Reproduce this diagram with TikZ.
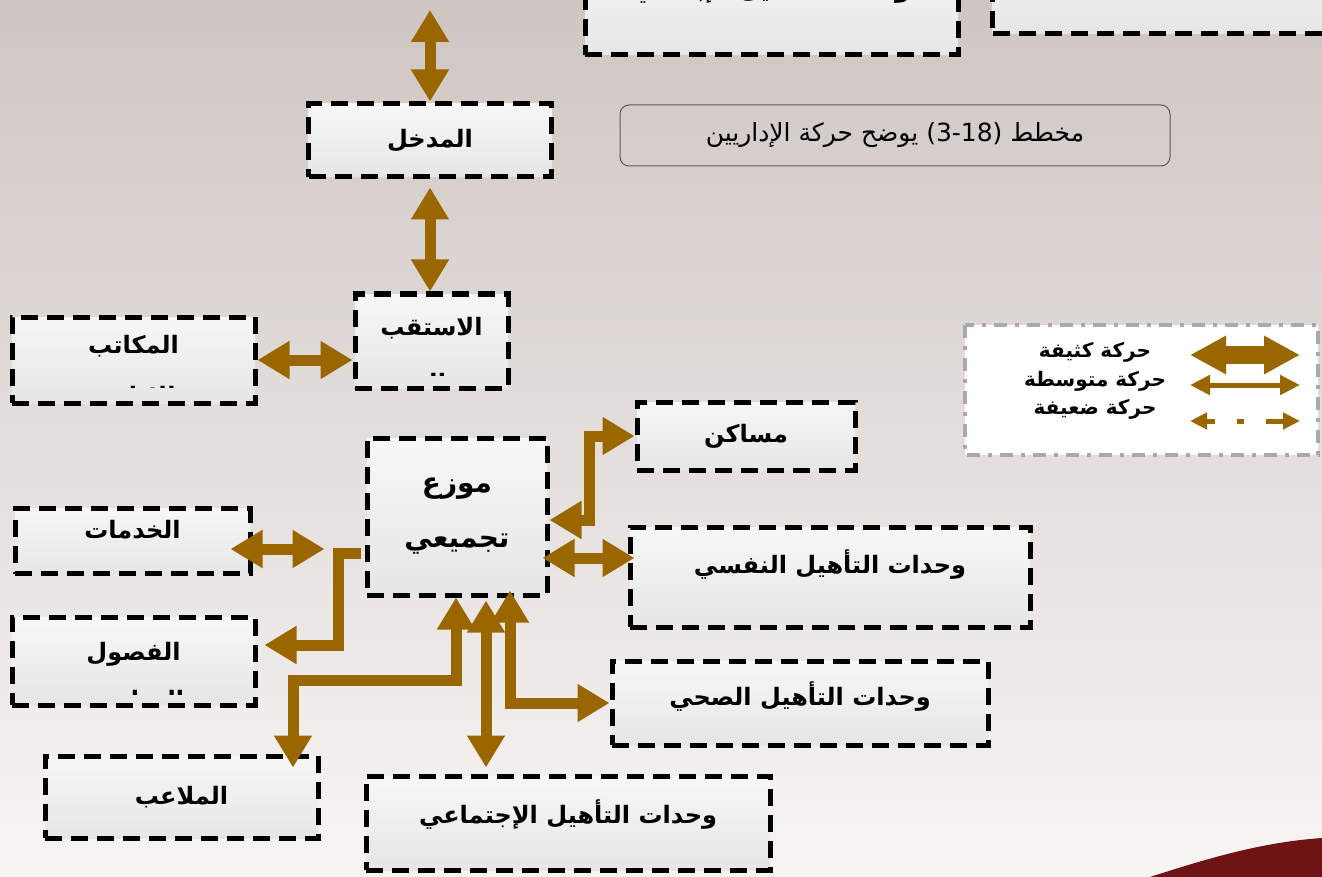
\documentclass[tikz,border=0pt]{standalone}
\usepackage{fontspec}
\usetikzlibrary{arrows.meta}
\newfontfamily\arabicfont[Script=Arabic]{DejaVu Sans}
\TeXXeTstate=1
\newcommand{\artxt}[1]{{\arabicfont\beginR #1\endR}}
\definecolor{arrowbrown}{HTML}{9A6600}
\definecolor{boxtop}{HTML}{F7F7F7}
\definecolor{boxbot}{HTML}{E6E6E6}
\definecolor{bgtop}{HTML}{CFC6C3}
\definecolor{bgmid}{HTML}{E4DEDB}
\definecolor{bgbot}{HTML}{F7F5F4}
\definecolor{legendgray}{HTML}{A9A9A9}
\definecolor{capline}{HTML}{5A5A5A}
\definecolor{darkred}{HTML}{6E1414}
\begin{document}
\begin{tikzpicture}[x=1pt, y=-1pt,
    box/.style={draw=black, line width=5pt, dash pattern=on 17pt off 9pt,
      top color=boxtop, bottom color=boxbot, inner sep=0pt,
      font=\fontsize{24}{28}\selectfont\bfseries},
    cut/.style={font=\fontsize{24}{28}\selectfont\bfseries},
    lift/.style={text depth=#1},
    flow/.style={draw=arrowbrown, line width=11pt, line join=miter,
      >={Triangle[length=32pt, width=36pt]}},
    dbl/.style={flow, <->},
    sgl/.style={flow, ->},
    caption/.style={draw=capline, line width=1pt, rounded corners=9pt,
      font=\fontsize{25}{28}\selectfont},
    legtext/.style={font=\fontsize{20}{22}\selectfont\bfseries, inner sep=0pt},
    thickmove/.style={draw=arrowbrown, line width=18pt,
      >={Triangle[length=36pt, width=36pt]}, <->},
    midmove/.style={draw=arrowbrown, line width=5pt,
      >={Triangle[length=20pt, width=19pt]}, <->},
    weakmove/.style={draw=arrowbrown, line width=5pt,
      >={Triangle[length=17pt, width=16pt]}, <->,
      dash pattern=on 9pt off 22pt on 7pt off 22pt on 30pt}]
  \useasboundingbox (0,0) rectangle (1322,877);
  \clip (0,0) rectangle (1322,877);
  % background
  \shade[top color=bgtop, middle color=bgmid, bottom color=bgbot] (0,0) rectangle (1322,877);
  \fill[darkred] (1150,877) .. controls (1215,856) and (1265,842) .. (1322,838) -- (1322,877) -- cycle;
  % boxes
  \node[box, minimum width=373pt, minimum height=100pt, lift=38pt] (ibdai) at (771.5,5)
    {\artxt{وحدات التأهيل الإبداعي}};
  \node[box, minimum width=347pt, minimum height=93pt] (topright) at (1166,-13) {};
  \node[box, minimum width=243pt, minimum height=73pt] (madkhal) at (430,140.5) {\artxt{المدخل}};
  \node[box, minimum width=153pt, minimum height=94pt, lift=30pt] (istiqbal) at (431.5,341)
    {\artxt{الاستقب}};
  \node[box, minimum width=243pt, minimum height=86pt, lift=31pt] (makatib) at (133.5,360)
    {\artxt{المكاتب}};
  \node[box, minimum width=235pt, minimum height=65pt, lift=24pt] (khadamat) at (132.5,541)
    {\artxt{الخدمات}};
  \node[box, minimum width=243pt, minimum height=88pt, lift=19pt] (fusul) at (133.5,661)
    {\artxt{الفصول}};
  \node[box, minimum width=180pt, minimum height=157pt, align=center,
    font=\fontsize{28}{55}\selectfont\bfseries] (mowazza) at (457,516.5)
    {\artxt{موزع}\\\artxt{تجميعي}};
  \node[box, minimum width=218pt, minimum height=68pt] (masakin) at (746,436) {\artxt{مساكن}};
  \node[box, minimum width=400pt, minimum height=100pt, lift=31pt] (nafsi) at (830,577)
    {\artxt{وحدات التأهيل النفسي}};
  \node[box, minimum width=376pt, minimum height=84pt, lift=19pt] (sihhi) at (800,703)
    {\artxt{وحدات التأهيل الصحي}};
  \node[box, minimum width=273pt, minimum height=82pt] (malaib) at (181.5,797)
    {\artxt{الملاعب}};
  \node[box, minimum width=404pt, minimum height=94pt, lift=23pt] (ijtimai) at (568,823)
    {\artxt{وحدات التأهيل الإجتماعي}};
  % second lines cut off by the boxes
  \begin{scope}
    \clip (makatib.north west) rectangle ([shift={(0,-18)}]makatib.south east);
    \node[cut] (makatib2) at ([shift={(0,38)}]makatib.center) {\artxt{الإدارية}};
  \end{scope}
  \begin{scope}
    \clip (istiqbal.north west) rectangle ([shift={(0,-15)}]istiqbal.south east);
    \node[cut] (istiqbal2) at ([shift={(0,44)}]istiqbal.center) {\artxt{ال}};
  \end{scope}
  \begin{scope}
    \clip (fusul.north west) rectangle ([shift={(0,-13)}]fusul.south east);
    \node[cut] (fusul2) at ([shift={(0,41)}]fusul.center) {\artxt{الدراسية}};
  \end{scope}
  % caption
  \node[caption, minimum width=550pt, minimum height=61pt] (title) at (895,135.5)
    {\artxt{مخطط \beginL(3-18)\endL{} يوضح حركة الإداريين}};
  % movements
  \coordinate (entry) at (430,10);
  \draw[dbl] (entry) -- (madkhal.north);
  \draw[dbl, shorten <=8pt] (madkhal.south) -- (madkhal.south |- istiqbal.north);
  \draw[dbl] (makatib.east) -- (makatib.east -| istiqbal.west);
  \draw[dbl] ([shift={(-22,8)}]khadamat.east) -- ([shift={(-40,32.5)}]mowazza.west);
  \draw[sgl] ([shift={(-4,36.5)}]mowazza.west) -| ([shift={(81,-16)}]fusul.east)
    -- ([shift={(7,-16)}]fusul.east);
  \draw[dbl] ([shift={(-1,0)}]mowazza.south) |- ([shift={(111.5,-73)}]malaib.north)
    -- ([shift={(111.5,14)}]malaib.north);
  \draw[dbl] ([shift={(29,3)}]mowazza.south) -- ([shift={(-82,-6)}]ijtimai.north);
  \draw[dbl] ([shift={(53,-7)}]mowazza.south) |- (sihhi.west);
  \draw[dbl] ([shift={(0,3.5)}]mowazza.east) -| ([shift={(-45,0)}]masakin.west) -- (masakin.west);
  \draw[dbl] ([shift={(-7,41.5)}]mowazza.east) -- ([shift={(7,-19)}]nafsi.west);
  % legend
  \draw[legendgray, fill=white, line width=4pt, dash pattern=on 13pt off 8pt on 4pt off 8pt]
    (965,325) rectangle (1318,455);
  \node[legtext] (heavy) at (1095,352) {\artxt{حركة كثيفة}};
  \node[legtext] (medium) at (1095,381) {\artxt{حركة متوسطة}};
  \node[legtext] (light) at (1095,409) {\artxt{حركة ضعيفة}};
  \coordinate (h1) at (1190,355); \coordinate (h2) at (1300,355);
  \coordinate (m1) at (1190,385); \coordinate (m2) at (1300,385);
  \coordinate (l1) at (1190,421); \coordinate (l2) at (1300,421);
  \draw[thickmove] (h1) -- (h2);
  \draw[midmove] (m1) -- (m2);
  \draw[weakmove] (l1) -- (l2);
\end{tikzpicture}
\end{document}
